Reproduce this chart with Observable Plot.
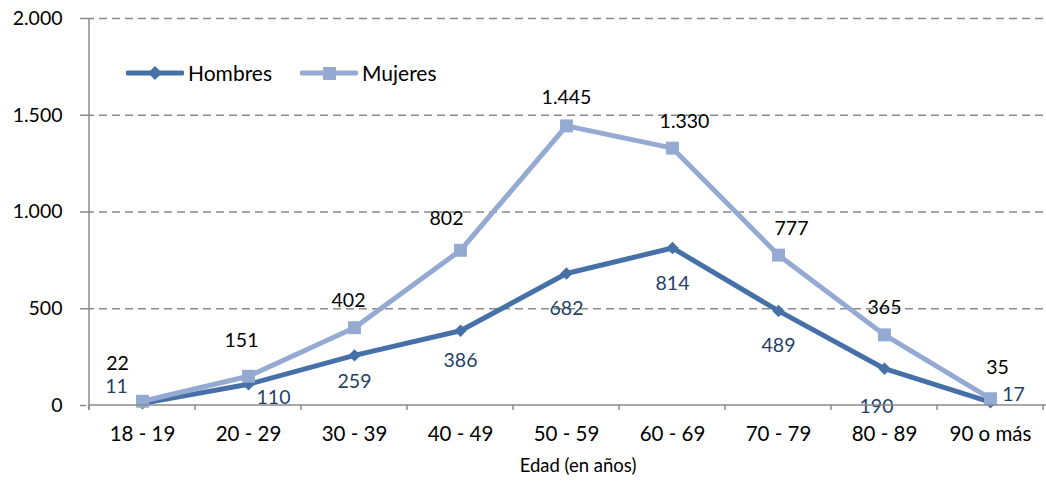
<!DOCTYPE html>
<html><head><meta charset="utf-8">
<script src="https://cdn.jsdelivr.net/npm/d3@7"></script>
<script src="https://cdn.jsdelivr.net/npm/@observablehq/plot@0.6"></script>
<style>
body{margin:0;background:#fff;font-family:Lato,"Open Sans",sans-serif;}
#wrap{position:relative;width:1046px;height:490px;}
.lg{position:absolute;top:60px;display:flex;align-items:center;font-size:21px;color:#000;}
.lg svg{display:block;}
</style></head><body><div id="wrap"></div>
<script>
const categories = ["18 - 19","20 - 29","30 - 39","40 - 49","50 - 59","60 - 69","70 - 79","80 - 89","90 o más"];
const hombres = [11,110,259,386,682,814,489,190,17];
const mujeres = [22,151,402,802,1445,1330,777,365,35];
const yTicks = [0,500,1000,1500,2000];
const seriesNames = ["Hombres","Mujeres"];
const xTitle = "Edad (en años)";

// label offsets (layout only)
const hombresLabelOffsets = [[-26,-17],[25,14],[0,26],[0,30],[0,35],[0,36],[0,35],[-8,38],[23,-7]];
const mujeresLabelOffsets = [[-25,-37],[-7,-36],[-6,-27],[-14,-32],[0,-28],[12,-26],[13,-26],[0,-27],[7,-31]];

const cH = "#4670a8", cM = "#95aad3", cHLabel = "#243f66";
const fmt = d3.formatLocale({decimal:",", thousands:".", grouping:[3], currency:["","€"]}).format(",");

const H = categories.map((c,i)=>({cat:c, v:hombres[i], i}));
const M = categories.map((c,i)=>({cat:c, v:mujeres[i], i}));

const labelMarks = [];
H.forEach((d,i)=>labelMarks.push(Plot.text([d],{x:"cat",y:"v",text:d=>fmt(d.v),dx:hombresLabelOffsets[i][0],dy:hombresLabelOffsets[i][1],fill:cHLabel,fontSize:19.5,lineAnchor:"middle",textAnchor:"middle"})));
M.forEach((d,i)=>labelMarks.push(Plot.text([d],{x:"cat",y:"v",text:d=>fmt(d.v),dx:mujeresLabelOffsets[i][0],dy:mujeresLabelOffsets[i][1],fill:"#000",fontSize:19.5,lineAnchor:"middle",textAnchor:"middle"})));

const chart = Plot.plot({
  width:1046, height:490,
  marginLeft:86, marginRight:0, marginTop:18, marginBottom:85,
  style:{fontFamily:"Lato, 'Open Sans', sans-serif", background:"#fff", overflow:"visible"},
  x:{type:"point", domain:categories, padding:0.5},
  y:{domain:[0,2000]},
  marks:[
    Plot.ruleY(yTicks.filter(d=>d>0),{stroke:"#8a8a8a",strokeWidth:1.3,strokeDasharray:"8,5"}),
    Plot.axisY({ticks:yTicks, tickFormat:fmt, tickSize:6, tickPadding:18, fontSize:19.5, stroke:"#8a8a8a", strokeWidth:1.5, color:"#000", label:null}),
    Plot.axisX({tickSize:0, tickPadding:21, fontSize:20.5, color:"#000", label:null}),
    Plot.line(H,{x:"cat",y:"v",stroke:cH,strokeWidth:5}),
    Plot.dot(H,{x:"cat",y:"v",symbol:"diamond2",r:5.6,fill:cH,stroke:null}),
    Plot.line(M,{x:"cat",y:"v",stroke:cM,strokeWidth:5}),
    Plot.dot(M,{x:"cat",y:"v",symbol:"square",r:7.3,fill:cM,stroke:null}),
    ...labelMarks
  ]
});

// axis lines and category boundary ticks drawn from the Plot scales
const xs = chart.scale("x"), ys = chart.scale("y");
const step = xs.apply(categories[1]) - xs.apply(categories[0]);
const y0 = ys.apply(0), yTop = ys.apply(2000);
const x0 = xs.apply(categories[0]) - step/2;
const svg = d3.select(chart);
const g = svg.append("g").attr("stroke","#8a8a8a").attr("stroke-width",1.5);
g.append("line").attr("x1",x0).attr("x2",x0).attr("y1",yTop).attr("y2",y0+5);
g.append("line").attr("x1",x0).attr("x2",1046).attr("y1",y0).attr("y2",y0);
for (let k=0;k<=categories.length;k++){
  const xx = x0 + k*step;
  g.append("line").attr("x1",xx).attr("x2",xx).attr("y1",y0).attr("y2",y0+5);
}
svg.append("text").attr("x",578).attr("y",472).attr("text-anchor","middle").attr("font-size",18.5).attr("fill","#000").text(xTitle);

const wrap = document.getElementById("wrap");
wrap.appendChild(chart);

function legendItem(name, color, shape, left){
  const div = document.createElement("div");
  div.className="lg"; div.style.left = left+"px";
  const s = d3.create("svg").attr("width",58).attr("height",24);
  s.append("line").attr("x1",2).attr("x2",56).attr("y1",12).attr("y2",12).attr("stroke",color).attr("stroke-width",5).attr("stroke-linecap","round");
  if (shape==="diamond") s.append("path").attr("d","M29,5 L36,12 L29,19 L22,12Z").attr("fill",color);
  else s.append("rect").attr("x",23).attr("y",6).attr("width",13).attr("height",13).attr("fill",color);
  div.appendChild(s.node());
  const t = document.createElement("span"); t.textContent=name; t.style.marginLeft="4px";
  div.appendChild(t);
  wrap.appendChild(div);
}
legendItem(seriesNames[0], cH, "diamond", 126);
legendItem(seriesNames[1], cM, "square", 300);
</script></body></html>
